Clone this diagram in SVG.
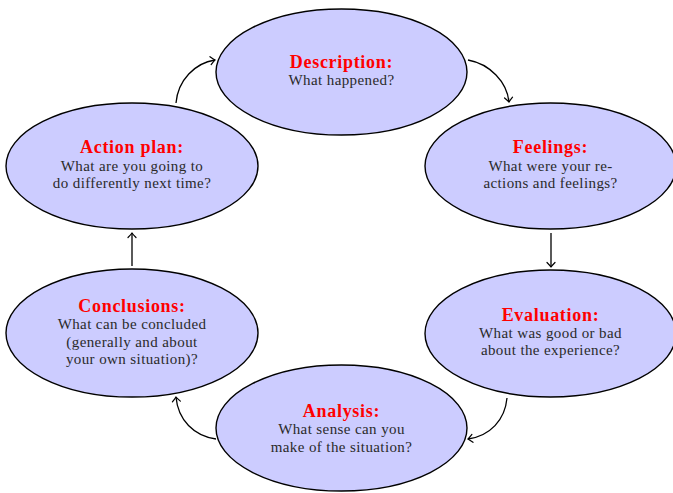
<svg xmlns="http://www.w3.org/2000/svg" width="673" height="493" viewBox="0 0 673 493">
<style>
.node ellipse{fill:#ccccff;stroke:#000;stroke-width:1.4}
.t{font-family:"Liberation Serif",serif;font-weight:bold;font-size:18px;fill:#ff0000;text-anchor:middle;letter-spacing:0.7px}
.b{font-family:"Liberation Serif",serif;font-size:15px;fill:#2a2a2a;text-anchor:middle;letter-spacing:0.4px}
.conn path{fill:none;stroke:#000;stroke-width:1.3}
</style>
<defs>
<marker id="arr" markerUnits="userSpaceOnUse" markerWidth="12" markerHeight="12" viewBox="-6 -6 12 12" refX="0" refY="0" orient="auto">
<path d="M-4.5,-4 Q-1.2,-0.8 0,0 Q-1.2,0.8 -4.5,4" fill="none" stroke="#000" stroke-width="1.2" stroke-linecap="round"/>
</marker>
</defs>
<rect width="673" height="493" fill="#fff"/>
<g class="conn">
<path d="M176,103 C178,80 195,63 215,60" marker-end="url(#arr)"/>
<path d="M468,60 C490,64 507,82 509,102" marker-end="url(#arr)"/>
<path d="M551,233 L551,267" marker-end="url(#arr)"/>
<path d="M507,398 C505,420 490,436 468,439" marker-end="url(#arr)"/>
<path d="M216,439 C194,436 178,420 176,397" marker-end="url(#arr)"/>
<path d="M132,266 L132,233" marker-end="url(#arr)"/>
</g>
<g id="description" class="node">
<ellipse cx="341.5" cy="72" rx="125.5" ry="63"/>
<text class="t" x="341.5" y="68">Description:</text>
<text class="b" x="341.5" y="85">What happened?</text>
</g>
<g id="feelings" class="node">
<ellipse cx="550.5" cy="166" rx="125.5" ry="63"/>
<text class="t" x="550.5" y="153">Feelings:</text>
<text class="b" x="550.5" y="171">What were your re-</text>
<text class="b" x="550.5" y="188">actions and feelings?</text>
</g>
<g id="evaluation" class="node">
<ellipse cx="550.5" cy="333.5" rx="125.5" ry="63.5"/>
<text class="t" x="550.5" y="321">Evaluation:</text>
<text class="b" x="550.5" y="338">What was good or bad</text>
<text class="b" x="550.5" y="355">about the experience?</text>
</g>
<g id="analysis" class="node">
<ellipse cx="341.5" cy="428" rx="125.5" ry="63"/>
<text class="t" x="341.5" y="417">Analysis:</text>
<text class="b" x="341.5" y="434">What sense can you</text>
<text class="b" x="341.5" y="452">make of the situation?</text>
</g>
<g id="conclusions" class="node">
<ellipse cx="132" cy="333" rx="126" ry="64"/>
<text class="t" x="132" y="312">Conclusions:</text>
<text class="b" x="132" y="329">What can be concluded</text>
<text class="b" x="132" y="347">(generally and about</text>
<text class="b" x="132" y="364">your own situation)?</text>
</g>
<g id="action-plan" class="node">
<ellipse cx="132" cy="166" rx="126" ry="63"/>
<text class="t" x="132" y="153">Action plan:</text>
<text class="b" x="132" y="171">What are you going to</text>
<text class="b" x="132" y="188">do differently next time?</text>
</g>
</svg>
